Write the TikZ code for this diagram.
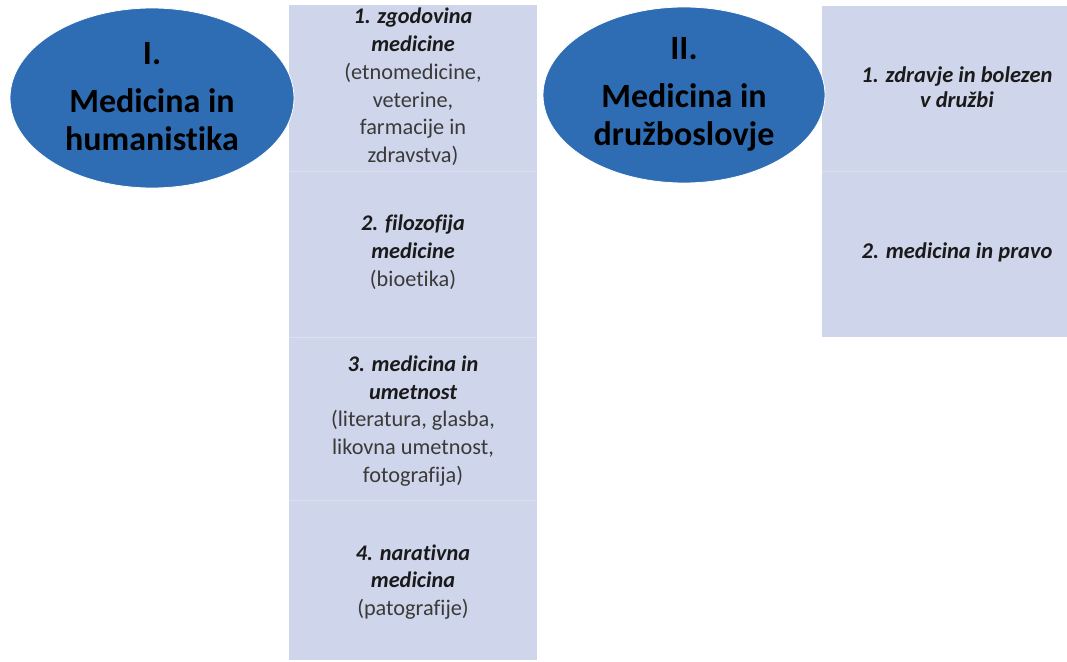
\documentclass[tikz,border=0pt]{standalone}
\usepackage{fontspec}
\setmainfont{Carlito}[Ligatures={NoCommon}]
\definecolor{colfill}{HTML}{CFD5EA}
\definecolor{divline}{HTML}{DCE0EF}
\definecolor{ellfill}{HTML}{2E6DB4}
\definecolor{txtgray}{HTML}{3A3A3A}
\definecolor{txtdark}{HTML}{1A1A1A}
\begin{document}
\begin{tikzpicture}[x=1pt,y=-1pt,
  ovaltext/.style={align=center, font=\fontsize{34}{38}\selectfont\bfseries, text=black},
  cell/.style={rectangle, fill=colfill, draw=none, inner sep=0pt, anchor=north west},
  celltext/.style={align=center, font=\fontsize{22.3}{27.8}\selectfont, text=txtgray},
  smalltext/.style={align=center, font=\fontsize{22.5}{24.5}\selectfont, text=txtdark},
  divider/.style={draw=divline, line width=1pt},
  ovaledge/.style={draw=white, line width=0.8pt}
]
\useasboundingbox[fill=white] (0,0) rectangle (1067,661);
\node[cell, minimum width=248pt, minimum height=655pt] (lcol) at (289,5) {};
\node[cell, minimum width=245pt, minimum height=331pt] (rcol) at (822,6) {};
\coordinate (d1a) at (289,171); \coordinate (d1b) at (537,171);
\coordinate (d2a) at (289,337); \coordinate (d2b) at (537,337);
\coordinate (d3a) at (289,500); \coordinate (d3b) at (537,500);
\coordinate (d4a) at (822,171); \coordinate (d4b) at (1067,171);
\draw[divider] (d1a) -- (d1b);
\draw[divider] (d2a) -- (d2b);
\draw[divider] (d3a) -- (d3b);
\draw[divider] (d4a) -- (d4b);
\fill[ellfill] (152,98) ellipse [x radius=142, y radius=90];
\draw[ovaledge] (152,98) ellipse [x radius=142, y radius=90];
\fill[ellfill] (684,95) ellipse [x radius=141, y radius=88];
\draw[ovaledge] (684,95) ellipse [x radius=141, y radius=88];
\node[ovaltext] (e1) at (152,97) {I.\\[10pt]Medicina in\\humanistika};
\node[ovaltext] (e2) at (684,94) {II.\\[10pt]Medicina in\\družboslovje};
\node[celltext] (t1) at (413,87) {\textcolor{txtdark}{\bfseries\itshape 1. zgodovina}\\\textcolor{txtdark}{\bfseries\itshape medicine}\\(etnomedicine,\\veterine,\\farmacije in\\zdravstva)};
\node[celltext] (t2) at (413,252) {\textcolor{txtdark}{\bfseries\itshape 2. filozofija}\\\textcolor{txtdark}{\bfseries\itshape medicine}\\(bioetika)};
\node[celltext] (t3) at (413,421) {\textcolor{txtdark}{\bfseries\itshape 3. medicina in}\\\textcolor{txtdark}{\bfseries\itshape umetnost}\\(literatura, glasba,\\likovna umetnost,\\fotografija)};
\node[celltext] (t4) at (413,582) {\textcolor{txtdark}{\bfseries\itshape 4. narativna}\\\textcolor{txtdark}{\bfseries\itshape medicina}\\(patografije)};
\node[smalltext] (r1) at (957,87) {\bfseries\itshape 1. zdravje in bolezen\\\bfseries\itshape v družbi};
\node[smalltext] (r2) at (957,252) {\bfseries\itshape 2. medicina in pravo};
\end{tikzpicture}
\end{document}
